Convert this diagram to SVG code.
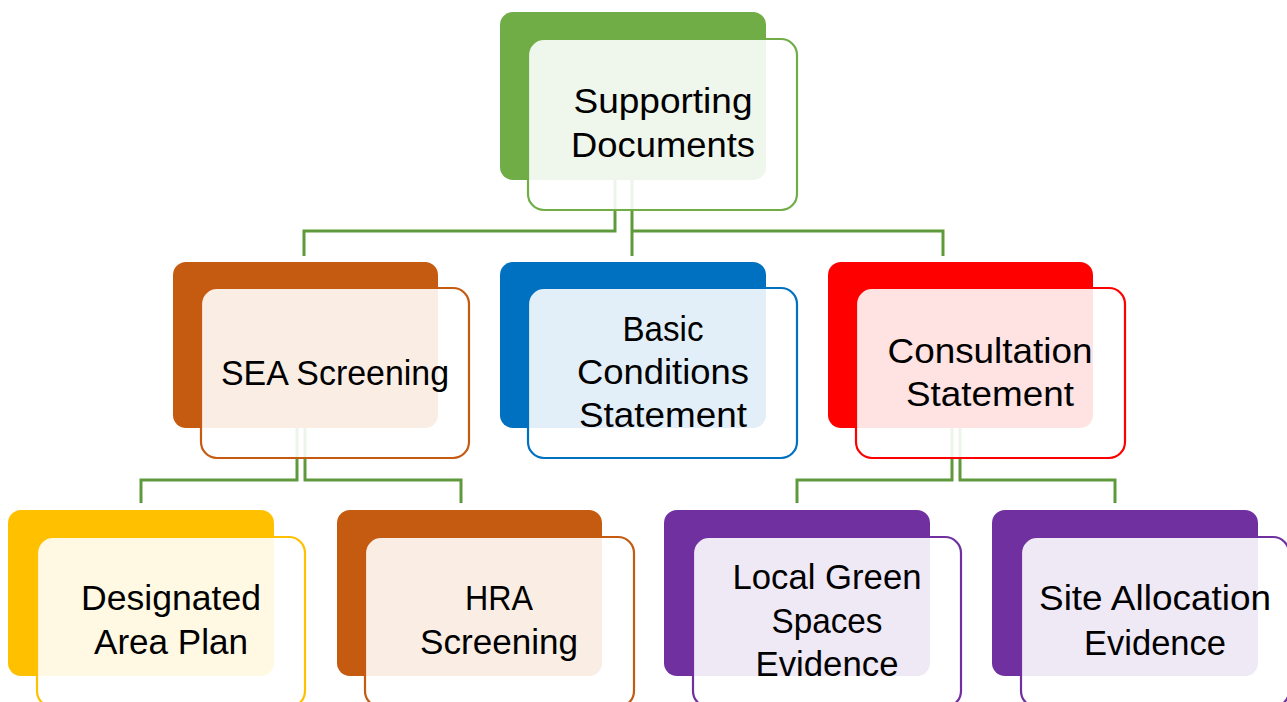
<svg xmlns="http://www.w3.org/2000/svg" width="1287" height="702" viewBox="0 0 1287 702">
<style>
.conn{fill:none;stroke:#5E9A3B;stroke-width:3}
.back{stroke:none}
.front{fill:#fff;fill-opacity:0.89;stroke-width:2.2}
.t{font-family:"Liberation Sans",Arial,sans-serif;font-size:35px;fill:#000;text-anchor:middle}
</style>
<rect width="1287" height="702" fill="#fff"/>
<g id="connectors">
<polyline class="conn" points="615,180 615,231 304,231 304,256"/>
<polyline class="conn" points="632,180 632,256"/>
<polyline class="conn" points="632,231 943,231 943,256"/>
<polyline class="conn" points="297,428 297,480 141,480 141,503"/>
<polyline class="conn" points="305,428 305,480 461,480 461,503"/>
<polyline class="conn" points="952,428 952,480 797,480 797,503"/>
<polyline class="conn" points="960,428 960,480 1115,480 1115,503"/>
</g>
<g id="supporting">
<rect class="back" x="500" y="12" width="266" height="168" rx="13" fill="#70AD47"/>
<rect class="front" x="528" y="39" width="269" height="171" rx="16" stroke="#70AD47"/>
<text class="t" x="663" y="113" textLength="179" lengthAdjust="spacingAndGlyphs">Supporting</text>
<text class="t" x="663" y="157" textLength="184" lengthAdjust="spacingAndGlyphs">Documents</text>
</g>
<g id="sea">
<rect class="back" x="173" y="262" width="265" height="166" rx="13" fill="#C55A11"/>
<rect class="front" x="201" y="288" width="268" height="170" rx="16" stroke="#C55A11"/>
<text class="t" x="335" y="385" textLength="228" lengthAdjust="spacingAndGlyphs">SEA Screening</text>
</g>
<g id="basic">
<rect class="back" x="500" y="262" width="266" height="166" rx="13" fill="#0070C0"/>
<rect class="front" x="528" y="288" width="269" height="170" rx="16" stroke="#0070C0"/>
<text class="t" x="663" y="341" textLength="81" lengthAdjust="spacingAndGlyphs">Basic</text>
<text class="t" x="663" y="384" textLength="172" lengthAdjust="spacingAndGlyphs">Conditions</text>
<text class="t" x="663" y="427" textLength="168" lengthAdjust="spacingAndGlyphs">Statement</text>
</g>
<g id="consultation">
<rect class="back" x="828" y="262" width="265" height="166" rx="13" fill="#FF0000"/>
<rect class="front" x="856" y="288" width="269" height="170" rx="16" stroke="#FF0000"/>
<text class="t" x="990" y="363" textLength="205" lengthAdjust="spacingAndGlyphs">Consultation</text>
<text class="t" x="990" y="406" textLength="168" lengthAdjust="spacingAndGlyphs">Statement</text>
</g>
<g id="designated">
<rect class="back" x="8" y="510" width="266" height="166" rx="13" fill="#FFC000"/>
<rect class="front" x="37" y="537" width="268" height="170" rx="16" stroke="#FFC000"/>
<text class="t" x="171" y="610" textLength="180" lengthAdjust="spacingAndGlyphs">Designated</text>
<text class="t" x="171" y="654" textLength="154" lengthAdjust="spacingAndGlyphs">Area Plan</text>
</g>
<g id="hra">
<rect class="back" x="337" y="510" width="265" height="166" rx="13" fill="#C55A11"/>
<rect class="front" x="365" y="537" width="269" height="170" rx="16" stroke="#C55A11"/>
<text class="t" x="499" y="610" textLength="68" lengthAdjust="spacingAndGlyphs">HRA</text>
<text class="t" x="499" y="654" textLength="158" lengthAdjust="spacingAndGlyphs">Screening</text>
</g>
<g id="localgreen">
<rect class="back" x="664" y="510" width="266" height="166" rx="13" fill="#7030A0"/>
<rect class="front" x="693" y="537" width="268" height="170" rx="16" stroke="#7030A0"/>
<text class="t" x="827" y="589" textLength="189" lengthAdjust="spacingAndGlyphs">Local Green</text>
<text class="t" x="827" y="633" textLength="111" lengthAdjust="spacingAndGlyphs">Spaces</text>
<text class="t" x="827" y="676" textLength="143" lengthAdjust="spacingAndGlyphs">Evidence</text>
</g>
<g id="siteallocation">
<rect class="back" x="992" y="510" width="266" height="166" rx="13" fill="#7030A0"/>
<rect class="front" x="1021" y="537" width="268" height="170" rx="16" stroke="#7030A0"/>
<text class="t" x="1155" y="610" textLength="232" lengthAdjust="spacingAndGlyphs">Site Allocation</text>
<text class="t" x="1155" y="655" textLength="142" lengthAdjust="spacingAndGlyphs">Evidence</text>
</g>
</svg>
